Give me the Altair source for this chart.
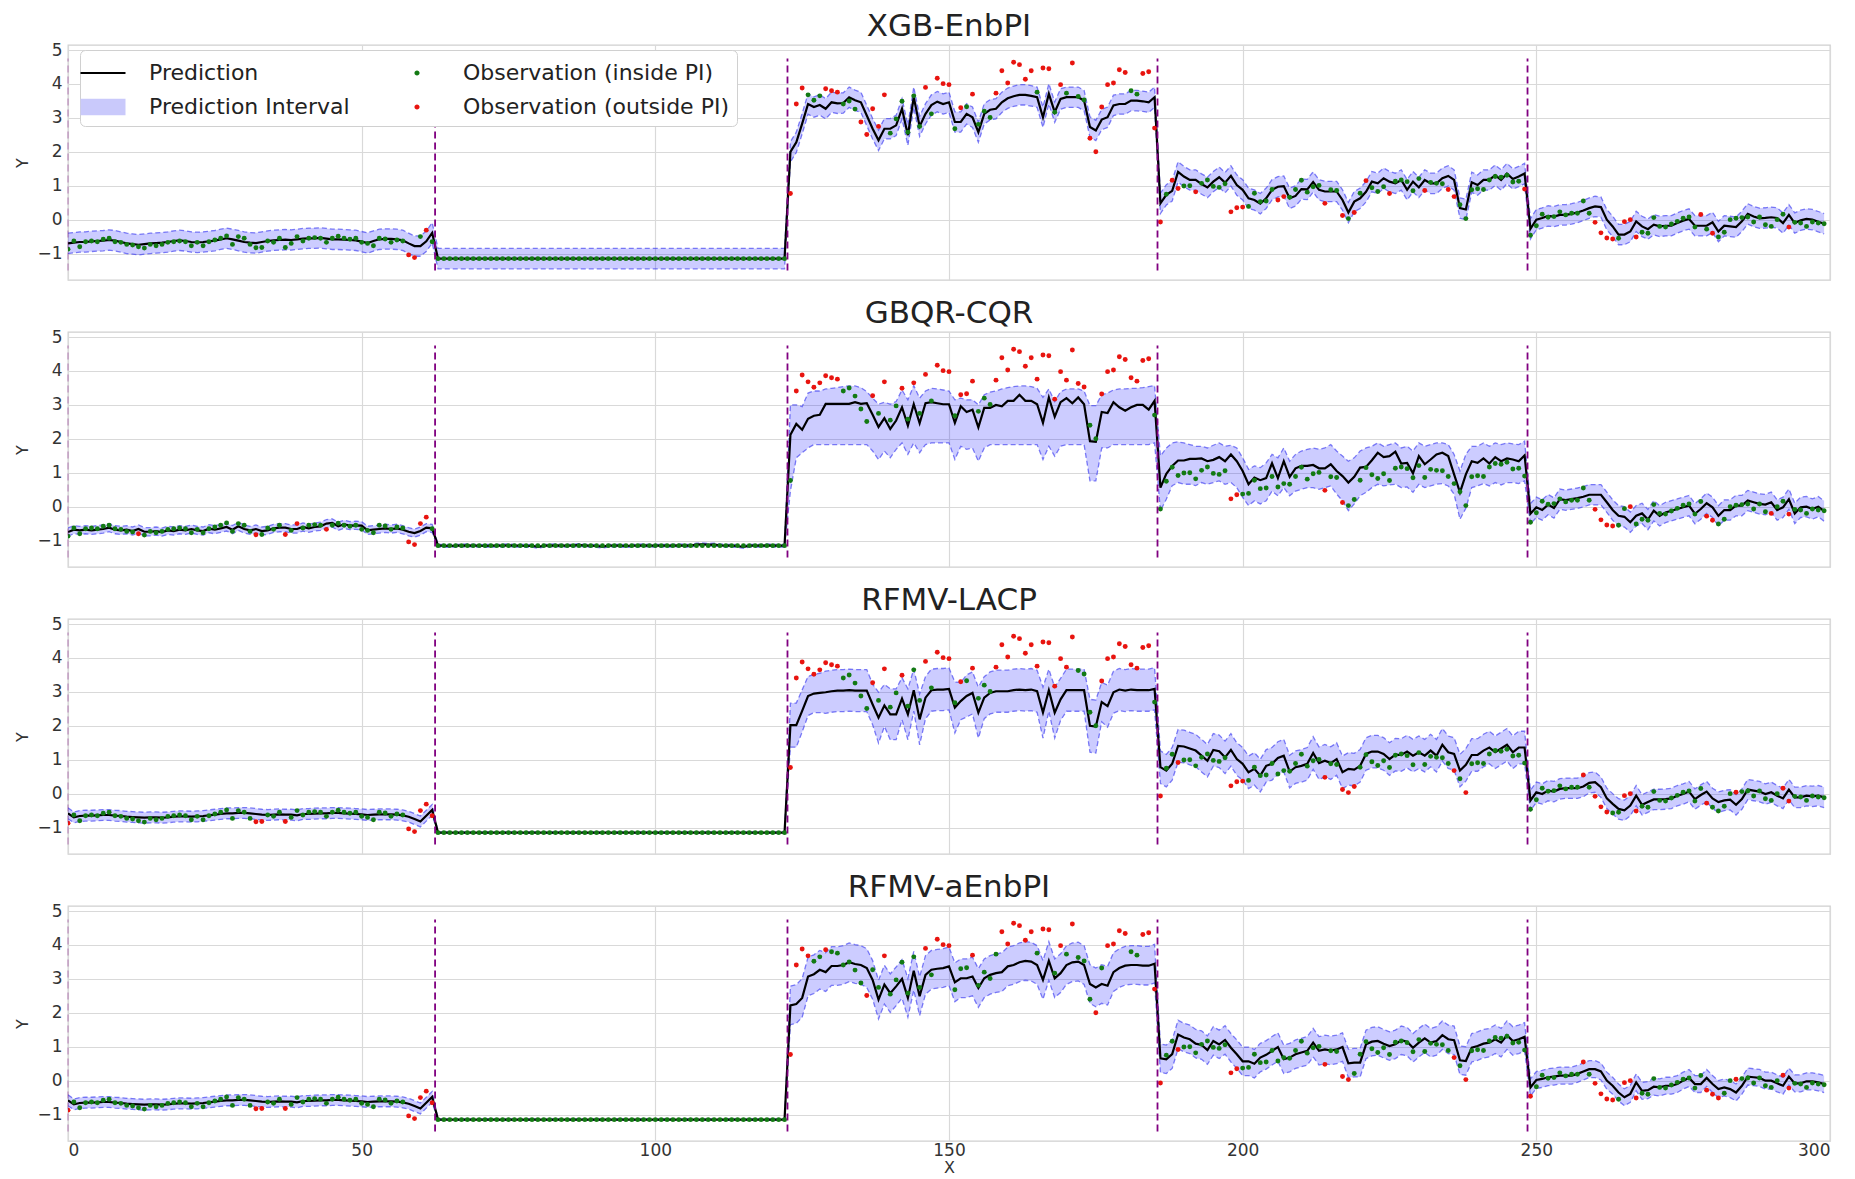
import altair as alt
import pandas as pd

# ---------------------------------------------------------------- data
X_VALUES = list(range(300))
SEG_LEN = [63, 60, 63, 63, 51]          # x = 0-62, 63-122, 123-185, 186-248, 249-299

OBS_SEG1 = [-0.87, -0.63, -0.80, -0.65, -0.63, -0.65, -0.58, -0.55, -0.65, -0.67,
            -0.73, -0.75, -0.80, -0.84, -0.73, -0.77, -0.73, -0.67, -0.65, -0.63,
            -0.65, -0.77, -0.67, -0.77, -0.65, -0.60, -0.55, -0.48, -0.73, -0.50,
            -0.55, -0.73, -0.83, -0.82, -0.63, -0.67, -0.55, -0.82, -0.70, -0.50,
            -0.63, -0.55, -0.53, -0.55, -0.67, -0.55, -0.49, -0.55, -0.58, -0.55,
            -0.67, -0.70, -0.77, -0.55, -0.57, -0.67, -0.60, -0.63, -1.04, -1.12,
            -0.50, -0.31, -0.65]
OBS_SEG2 = [-1.15] * 60
OBS_SEG3 = [0.77, 3.41, 3.88, 3.68, 3.52, 3.65, 3.86, 3.80, 3.76, 3.41,
            3.50, 3.26, 2.88, 2.51, 3.27, 2.75, 3.68, 2.55, 2.97, 3.49,
            2.58, 3.65, 2.75, 3.90, 3.12, 4.17, 4.01, 3.98, 2.68, 3.30,
            3.33, 3.70, 2.81, 3.20, 3.01, 3.73, 4.39, 4.03, 4.64, 4.57,
            4.14, 4.39, 3.76, 4.47, 4.45, 3.17, 3.98, 3.73, 4.62, 3.63,
            3.53, 2.40, 2.00, 3.32, 3.98, 4.03, 4.42, 4.34, 3.80, 3.70,
            4.31, 4.36, 2.70]
OBS_SEG4 = [-0.07, 0.75, 1.16, 0.92, 0.99, 1.00, 0.82, 1.07, 1.17, 0.98,
            0.95, 1.06, 0.23, 0.35, 0.37, 0.39, 0.78, 0.53, 0.55, 0.89,
            0.58, 0.68, 0.66, 0.89, 1.16, 0.81, 0.97, 1.01, 0.48, 0.88,
            0.86, 0.12, 0.03, 0.21, 0.78, 1.15, 0.94, 0.83, 0.97, 0.77,
            1.13, 1.17, 1.12, 0.85, 1.21, 0.86, 1.10, 1.07, 1.06, 0.89,
            0.68, 0.44, 0.03, 0.88, 0.91, 0.89, 1.17, 1.27, 1.25, 1.31,
            1.11, 1.13, 0.90]
OBS_SEG5 = [-0.46, -0.18, 0.16, 0.07, 0.09, 0.23, 0.14, 0.19, 0.19, 0.55,
            0.19, -0.08, -0.39, -0.54, -0.57, -0.55, -0.06, 0.00, -0.51, -0.37,
            -0.40, 0.06, -0.20, -0.22, -0.13, -0.05, 0.04, 0.08, -0.22, 0.15,
            -0.28, -0.40, -0.51, -0.37, 0.00, 0.04, 0.06, 0.08, -0.07, 0.08,
            -0.15, -0.20, 0.00, 0.16, -0.22, -0.08, -0.10, -0.20, -0.07, -0.10,
            -0.12]

# ---- XGB-EnbPI
XGB_PRED_SEG1 = [-0.70, -0.68, -0.66, -0.66, -0.64, -0.63, -0.62, -0.60, -0.62, -0.66,
                 -0.70, -0.72, -0.74, -0.72, -0.70, -0.69, -0.68, -0.66, -0.63, -0.61,
                 -0.63, -0.66, -0.67, -0.66, -0.64, -0.62, -0.58, -0.55, -0.58, -0.62,
                 -0.66, -0.68, -0.69, -0.66, -0.63, -0.61, -0.60, -0.59, -0.60, -0.58,
                 -0.56, -0.55, -0.55, -0.54, -0.56, -0.58, -0.58, -0.59, -0.60, -0.61,
                 -0.65, -0.69, -0.63, -0.58, -0.57, -0.57, -0.58, -0.61, -0.70, -0.78,
                 -0.78, -0.64, -0.39]
XGB_PRED_SEG2 = [-1.15] * 60
XGB_PRED_SEG3 = [2.00, 2.28, 2.83, 3.41, 3.32, 3.38, 3.27, 3.46, 3.43, 3.44,
                 3.61, 3.52, 3.46, 3.07, 2.68, 2.34, 2.68, 2.68, 2.78, 3.27,
                 2.49, 3.61, 2.75, 3.12, 3.38, 3.48, 3.41, 3.46, 2.88, 2.88,
                 3.12, 3.02, 2.58, 3.12, 3.24, 3.27, 3.46, 3.58, 3.64, 3.68,
                 3.68, 3.65, 3.61, 3.02, 3.71, 3.17, 3.56, 3.61, 3.61, 3.61,
                 3.51, 2.73, 2.63, 2.95, 3.02, 3.37, 3.41, 3.41, 3.51, 3.51,
                 3.49, 3.46, 3.61]
XGB_PRED_SEG4 = [0.48, 0.73, 0.85, 1.41, 1.27, 1.17, 1.17, 1.05, 0.95, 1.12,
                 1.25, 1.09, 1.29, 1.02, 0.88, 0.63, 0.58, 0.47, 0.63, 0.88,
                 0.97, 0.99, 0.63, 0.70, 0.90, 0.89, 1.11, 0.88, 0.83, 0.83,
                 0.83, 0.58, 0.21, 0.53, 0.63, 0.82, 1.12, 1.07, 1.22, 1.12,
                 1.07, 1.17, 0.88, 1.12, 0.95, 1.17, 1.07, 1.07, 1.22, 1.29,
                 1.17, 0.34, 0.30, 1.10, 1.02, 1.17, 1.17, 1.31, 1.17, 1.36,
                 1.20, 1.27, 1.36]
XGB_PRED_SEG5 = [-0.27, 0.00, 0.05, 0.11, 0.09, 0.14, 0.14, 0.17, 0.21, 0.27,
                 0.34, 0.39, 0.37, 0.00, -0.20, -0.44, -0.44, -0.35, -0.05, -0.20,
                 -0.28, -0.15, -0.20, -0.18, -0.18, -0.10, -0.03, 0.02, -0.18, -0.18,
                 -0.18, -0.08, -0.35, -0.18, -0.20, -0.22, -0.05, 0.17, 0.09, 0.04,
                 0.05, 0.07, 0.05, -0.10, 0.14, -0.10, -0.02, 0.02, 0.00, -0.06,
                 -0.12]
XGB_HALF_WIDTH = [0.30, 0.30, 0.30, 0.30, 0.30]

# ---- GBQR-CQR
GBQR_PRED_SEG1 = [-0.75, -0.68, -0.70, -0.68, -0.70, -0.68, -0.66, -0.62, -0.68, -0.70,
                  -0.68, -0.72, -0.66, -0.74, -0.74, -0.72, -0.75, -0.70, -0.72, -0.68,
                  -0.70, -0.66, -0.70, -0.72, -0.65, -0.68, -0.64, -0.60, -0.68, -0.58,
                  -0.66, -0.70, -0.66, -0.72, -0.70, -0.64, -0.62, -0.62, -0.66, -0.66,
                  -0.60, -0.64, -0.60, -0.58, -0.50, -0.48, -0.58, -0.52, -0.56, -0.55,
                  -0.56, -0.70, -0.68, -0.66, -0.64, -0.66, -0.64, -0.68, -0.74, -0.78,
                  -0.72, -0.62, -0.64]
GBQR_PRED_SEG2 = [-1.15, -1.15, -1.16, -1.15, -1.15, -1.14, -1.15, -1.15, -1.16, -1.15,
                  -1.15, -1.15, -1.14, -1.15, -1.15, -1.16, -1.15, -1.19, -1.15, -1.15,
                  -1.14, -1.15, -1.15, -1.15, -1.13, -1.15, -1.15, -1.16, -1.18, -1.15,
                  -1.15, -1.15, -1.16, -1.15, -1.15, -1.14, -1.15, -1.15, -1.15, -1.15,
                  -1.15, -1.14, -1.15, -1.15, -1.12, -1.11, -1.13, -1.12, -1.14, -1.15,
                  -1.15, -1.16, -1.19, -1.15, -1.15, -1.15, -1.14, -1.15, -1.15, -1.15]
GBQR_PRED_SEG3 = [2.12, 2.44, 2.27, 2.59, 2.68, 2.71, 3.03, 3.03, 3.03, 3.03,
                  3.03, 3.08, 3.03, 3.05, 2.71, 2.35, 2.61, 2.29, 2.54, 2.93,
                  2.39, 3.02, 2.46, 3.05, 3.08, 3.05, 3.02, 3.02, 2.47, 2.96,
                  2.79, 2.86, 2.34, 2.91, 2.91, 3.00, 2.96, 3.12, 3.12, 3.30,
                  3.12, 3.12, 3.02, 2.47, 3.22, 2.65, 3.08, 3.20, 3.05, 3.22,
                  3.02, 1.93, 1.91, 2.79, 2.76, 3.08, 2.93, 2.83, 2.93, 3.00,
                  3.00, 2.86, 3.12]
GBQR_UPPER_SEG3 = [3.00, 3.00, 2.95, 3.35, 3.41, 3.41, 3.47, 3.49, 3.51, 3.54,
                   3.56, 3.56, 3.51, 3.39, 3.20, 3.02, 3.08, 3.02, 3.10, 3.44,
                   3.15, 3.57, 3.20, 3.41, 3.49, 3.47, 3.44, 3.41, 3.15, 3.20,
                   3.15, 3.15, 3.00, 3.30, 3.38, 3.41, 3.47, 3.51, 3.54, 3.56,
                   3.56, 3.54, 3.49, 3.22, 3.47, 3.10, 3.39, 3.47, 3.47, 3.47,
                   3.41, 2.98, 2.98, 3.30, 3.35, 3.44, 3.47, 3.47, 3.49, 3.49,
                   3.51, 3.54, 3.57]
GBQR_LOWER_SEG3 = [0.46, 1.44, 1.59, 1.73, 1.83, 1.83, 1.83, 1.83, 1.83, 1.83,
                   1.83, 1.83, 1.83, 1.83, 1.64, 1.39, 1.64, 1.44, 1.69, 1.88,
                   1.54, 1.88, 1.59, 1.83, 1.88, 1.88, 1.88, 1.88, 1.39, 1.78,
                   1.69, 1.73, 1.34, 1.73, 1.83, 1.83, 1.83, 1.83, 1.83, 1.83,
                   1.83, 1.83, 1.83, 1.39, 1.78, 1.49, 1.78, 1.83, 1.83, 1.83,
                   1.83, 0.76, 0.76, 1.73, 1.73, 1.83, 1.83, 1.83, 1.83, 1.83,
                   1.83, 1.83, 1.88]
GBQR_PRED_SEG4 = [0.56, 0.97, 1.20, 1.36, 1.36, 1.41, 1.41, 1.42, 1.34, 1.38,
                  1.46, 1.34, 1.54, 1.34, 1.05, 0.66, 0.86, 0.78, 0.84, 1.28,
                  0.84, 1.34, 0.88, 1.13, 1.20, 1.20, 1.23, 1.13, 1.13, 1.25,
                  1.05, 0.90, 0.71, 0.88, 1.15, 1.17, 1.37, 1.59, 1.46, 1.49,
                  1.62, 1.27, 1.29, 0.98, 1.49, 1.25, 1.39, 1.54, 1.59, 1.49,
                  0.95, 0.42, 0.95, 1.34, 1.29, 1.42, 1.27, 1.46, 1.34, 1.42,
                  1.39, 1.34, 1.51]
GBQR_UPPER_SEG4 = [1.49, 1.73, 1.88, 1.91, 1.88, 1.83, 1.78, 1.78, 1.73, 1.81,
                   1.88, 1.78, 1.81, 1.73, 1.44, 1.10, 1.20, 1.15, 1.29, 1.54,
                   1.44, 1.73, 1.34, 1.54, 1.64, 1.69, 1.73, 1.69, 1.73, 1.83,
                   1.64, 1.49, 1.34, 1.44, 1.64, 1.73, 1.78, 1.88, 1.78, 1.83,
                   1.88, 1.73, 1.78, 1.64, 1.88, 1.78, 1.83, 1.88, 1.88, 1.83,
                   1.54, 1.05, 1.54, 1.78, 1.78, 1.88, 1.78, 1.88, 1.83, 1.88,
                   1.85, 1.83, 1.93]
GBQR_LOWER_SEG4 = [-0.12, 0.22, 0.62, 0.71, 0.66, 0.66, 0.62, 0.71, 0.66, 0.71,
                   0.76, 0.66, 0.71, 0.56, 0.27, 0.03, 0.17, 0.08, 0.17, 0.46,
                   0.32, 0.56, 0.32, 0.46, 0.51, 0.56, 0.56, 0.51, 0.56, 0.61,
                   0.37, 0.17, -0.12, 0.08, 0.32, 0.42, 0.56, 0.66, 0.61, 0.64,
                   0.66, 0.56, 0.58, 0.42, 0.66, 0.56, 0.61, 0.66, 0.68, 0.61,
                   0.37, -0.37, -0.05, 0.56, 0.61, 0.68, 0.61, 0.71, 0.64, 0.71,
                   0.71, 0.68, 0.76]
GBQR_PRED_SEG5 = [-0.21, -0.02, -0.10, 0.06, -0.04, 0.22, 0.19, 0.22, 0.25, 0.29,
                  0.35, 0.35, 0.35, 0.13, -0.10, -0.27, -0.30, -0.46, -0.27, -0.20,
                  -0.38, -0.12, -0.27, -0.17, -0.12, -0.07, -0.02, 0.03, -0.21, -0.07,
                  0.10, -0.02, -0.27, -0.10, -0.10, 0.03, 0.03, 0.18, 0.13, 0.08,
                  0.06, 0.13, -0.10, -0.02, 0.22, -0.20, -0.02, 0.00, -0.07, 0.00,
                  -0.13]
GBQR_HALF_WIDTH = [0.12, 0.04, None, None, 0.30]

# ---- RFMV-LACP
LACP_PRED_SEG1 = [-0.58, -0.70, -0.66, -0.65, -0.65, -0.64, -0.63, -0.63, -0.65, -0.66,
                  -0.68, -0.69, -0.70, -0.71, -0.70, -0.70, -0.71, -0.70, -0.68, -0.67,
                  -0.67, -0.68, -0.67, -0.66, -0.64, -0.62, -0.60, -0.58, -0.58, -0.57,
                  -0.57, -0.58, -0.60, -0.62, -0.63, -0.62, -0.61, -0.62, -0.62, -0.64,
                  -0.60, -0.60, -0.59, -0.58, -0.58, -0.57, -0.57, -0.58, -0.59, -0.60,
                  -0.61, -0.63, -0.62, -0.61, -0.61, -0.61, -0.62, -0.64, -0.68, -0.75,
                  -0.82, -0.65, -0.48]
LACP_PRED_SEG2 = [-1.15] * 60
LACP_PRED_SEG3 = [2.02, 2.02, 2.44, 2.88, 2.95, 2.97, 2.99, 3.02, 3.04, 3.04,
                  3.05, 3.04, 3.04, 3.04, 2.63, 2.24, 2.60, 2.34, 2.34, 2.80,
                  2.34, 3.05, 2.19, 2.83, 3.05, 3.07, 3.07, 3.09, 2.54, 2.73,
                  2.88, 2.97, 2.39, 2.83, 2.97, 3.02, 3.02, 3.02, 3.05, 3.07,
                  3.05, 3.07, 3.02, 2.39, 3.05, 2.39, 2.78, 3.05, 3.05, 3.05,
                  3.05, 2.00, 1.98, 2.70, 2.58, 2.99, 3.07, 3.04, 3.07, 3.05,
                  3.05, 3.05, 3.09]
LACP_HW_SEG3 = [0.65, 0.65, 0.62, 0.58, 0.56, 0.58, 0.62, 0.62, 0.62, 0.62,
                0.62, 0.62, 0.62, 0.62, 0.60, 0.75, 0.62, 0.75, 0.75, 0.62,
                0.75, 0.62, 0.75, 0.62, 0.62, 0.62, 0.62, 0.62, 0.75, 0.55,
                0.62, 0.62, 0.75, 0.62, 0.62, 0.62, 0.62, 0.62, 0.62, 0.62,
                0.62, 0.62, 0.62, 0.75, 0.62, 0.75, 0.62, 0.62, 0.62, 0.62,
                0.62, 0.78, 0.78, 0.58, 0.62, 0.62, 0.62, 0.62, 0.62, 0.62,
                0.62, 0.62, 0.62]
LACP_PRED_SEG4 = [0.78, 0.68, 0.88, 1.41, 1.39, 1.33, 1.27, 1.12, 0.97, 1.29,
                  1.25, 1.07, 1.29, 1.02, 0.88, 0.63, 0.73, 0.53, 0.82, 0.88,
                  1.05, 1.12, 0.65, 0.78, 0.82, 0.88, 1.20, 0.90, 0.97, 0.90,
                  1.02, 0.63, 0.73, 0.71, 0.82, 1.17, 1.24, 1.24, 1.17, 1.02,
                  1.15, 1.14, 1.24, 1.12, 1.22, 1.12, 1.27, 1.12, 1.44, 1.22,
                  1.17, 0.68, 0.85, 1.14, 1.14, 1.27, 1.36, 1.22, 1.33, 1.44,
                  1.22, 1.36, 1.36]
LACP_PRED_SEG5 = [-0.20, 0.04, -0.01, 0.09, 0.06, 0.14, 0.16, 0.16, 0.16, 0.21,
                  0.32, 0.34, 0.19, -0.14, -0.30, -0.45, -0.49, -0.35, -0.06, -0.33,
                  -0.25, -0.17, -0.17, -0.16, -0.14, -0.06, -0.01, 0.06, -0.16, -0.04,
                  0.06, -0.14, -0.25, -0.20, -0.18, -0.33, -0.16, 0.12, 0.09, 0.06,
                  -0.01, 0.04, -0.06, -0.14, 0.12, -0.11, -0.11, -0.06, -0.08, -0.06,
                  -0.11]
LACP_HALF_WIDTH = [0.16, 0.02, None, 0.48, 0.30]

# ---- RFMV-aEnbPI
AENBPI_PRED_SEG1 = LACP_PRED_SEG1
AENBPI_PRED_SEG2 = [-1.15] * 60
AENBPI_PRED_SEG3 = [2.22, 2.26, 2.44, 3.07, 3.14, 3.27, 3.20, 3.38, 3.38, 3.41,
                    3.49, 3.44, 3.41, 3.32, 2.97, 2.39, 2.83, 2.58, 2.78, 3.00,
                    2.44, 3.24, 2.49, 3.12, 3.27, 3.30, 3.32, 3.37, 2.90, 3.02,
                    3.02, 3.07, 2.73, 3.02, 3.12, 3.17, 3.20, 3.37, 3.41, 3.49,
                    3.53, 3.51, 3.41, 2.97, 3.53, 3.02, 3.17, 3.41, 3.49, 3.51,
                    3.41, 2.85, 2.75, 2.85, 2.80, 3.20, 3.32, 3.39, 3.41, 3.41,
                    3.39, 3.39, 3.45]
AENBPI_PRED_SEG4 = [0.66, 0.63, 0.78, 1.36, 1.27, 1.22, 1.09, 1.05, 0.90, 1.17,
                    1.07, 1.20, 0.97, 0.78, 0.57, 0.57, 0.50, 0.68, 0.76, 0.88,
                    0.99, 0.63, 0.68, 0.78, 0.83, 0.88, 1.12, 0.88, 0.92, 0.89,
                    0.92, 0.99, 0.51, 0.53, 0.53, 1.07, 1.15, 1.17, 1.09, 1.02,
                    1.07, 1.19, 1.15, 0.97, 1.12, 1.25, 1.12, 1.17, 1.34, 1.22,
                    1.19, 0.60, 0.58, 0.97, 1.02, 1.09, 1.12, 1.22, 1.12, 1.34,
                    1.17, 1.22, 1.29]
AENBPI_PRED_SEG5 = [-0.20, 0.02, 0.05, 0.10, 0.12, 0.15, 0.15, 0.15, 0.20, 0.27,
                    0.34, 0.34, 0.27, 0.00, -0.15, -0.35, -0.49, -0.39, -0.05, -0.30,
                    -0.28, -0.18, -0.20, -0.15, -0.15, -0.10, 0.00, 0.08, -0.10, -0.10,
                    0.08, -0.10, -0.25, -0.20, -0.25, -0.35, -0.15, 0.12, 0.10, 0.08,
                    0.00, 0.00, -0.08, -0.15, 0.12, -0.08, -0.08, -0.02, -0.02, -0.05,
                    -0.10]
AENBPI_HALF_WIDTH = [0.16, 0.02, 0.57, 0.42, 0.25]

PANEL_TITLES = ["XGB-EnbPI", "GBQR-CQR", "RFMV-LACP", "RFMV-aEnbPI"]
CHANGE_POINTS = [0, 62.5, 122.5, 185.5, 248.5]
CHANGE_ALPHA = [0.25, 1, 1, 1, 1]
CHANGE_Y = [-1.5, 4.75]
X_TICKS = [0, 50, 100, 150, 200, 250, 300]
Y_TICKS = [-1, 0, 1, 2, 3, 4, 5]
X_DOMAIN = [0, 300]
Y_DOMAIN = [-1.78, 5.15]

LEGEND_LABELS = ["Prediction", "Prediction Interval",
                 "Observation (inside PI)", "Observation (outside PI)"]
LEGEND_COLORS = ["#000000", "#c9c9fb", "#137a13", "#e8140f"]
LEGEND_SHAPES = ["M-1.5,-0.07L1.5,-0.07L1.5,0.07L-1.5,0.07Z",
                 "M-1.5,-0.55L1.5,-0.55L1.5,0.55L-1.5,0.55Z",
                 "M-0.17,0A0.17,0.17 0 1,0 0.17,0A0.17,0.17 0 1,0 -0.17,0Z",
                 "M-0.17,0A0.17,0.17 0 1,0 0.17,0A0.17,0.17 0 1,0 -0.17,0Z"]

GREEN = "#137a13"
RED = "#e8140f"
FONT = "DejaVu Sans"


def build_band(preds, half_widths, uppers=None, lowers=None):
    pred, lo, up = [], [], []
    for i, seg in enumerate(preds):
        pred += seg
        hw = half_widths[i]
        if hw is None and uppers is not None and uppers.get(i) is not None:
            up += uppers[i]
            lo += lowers[i]
        elif isinstance(hw, list):
            up += [p + h for p, h in zip(seg, hw)]
            lo += [p - h for p, h in zip(seg, hw)]
        else:
            up += [p + hw for p in seg]
            lo += [p - hw for p in seg]
    return pred, lo, up


OBS = OBS_SEG1 + OBS_SEG2 + OBS_SEG3 + OBS_SEG4 + OBS_SEG5

PANELS = [
    build_band([XGB_PRED_SEG1, XGB_PRED_SEG2, XGB_PRED_SEG3, XGB_PRED_SEG4, XGB_PRED_SEG5],
               XGB_HALF_WIDTH),
    build_band([GBQR_PRED_SEG1, GBQR_PRED_SEG2, GBQR_PRED_SEG3, GBQR_PRED_SEG4, GBQR_PRED_SEG5],
               GBQR_HALF_WIDTH,
               uppers={2: GBQR_UPPER_SEG3, 3: GBQR_UPPER_SEG4},
               lowers={2: GBQR_LOWER_SEG3, 3: GBQR_LOWER_SEG4}),
    build_band([LACP_PRED_SEG1, LACP_PRED_SEG2, LACP_PRED_SEG3, LACP_PRED_SEG4, LACP_PRED_SEG5],
               [LACP_HALF_WIDTH[0], LACP_HALF_WIDTH[1], LACP_HW_SEG3,
                LACP_HALF_WIDTH[3], LACP_HALF_WIDTH[4]]),
    build_band([AENBPI_PRED_SEG1, AENBPI_PRED_SEG2, AENBPI_PRED_SEG3, AENBPI_PRED_SEG4,
                AENBPI_PRED_SEG5], AENBPI_HALF_WIDTH),
]

vline_df = pd.DataFrame({"x": CHANGE_POINTS, "alpha": CHANGE_ALPHA,
                         "y0": [CHANGE_Y[0]] * len(CHANGE_POINTS),
                         "y1": [CHANGE_Y[1]] * len(CHANGE_POINTS)})
legend_df = pd.DataFrame({"cat": LEGEND_LABELS, "x": [-50] * 4, "y": [0] * 4})

PANEL_W, PANEL_H = 1762, 235
MINUS = "\u2212"


def y_enc(field):
    return alt.Y(field, title="Y",
                 scale=alt.Scale(domain=Y_DOMAIN, nice=False, zero=False),
                 axis=alt.Axis(values=Y_TICKS, labelExpr="replace(datum.label, '-', '%s')" % MINUS,
                               titlePadding=6, labelPadding=6))


def make_panel(idx):
    pred, lo, up = PANELS[idx]
    cls = ["in" if l <= o <= u else "out" for o, l, u in zip(OBS, lo, up)]
    df = pd.DataFrame({"x": X_VALUES, "obs": OBS, "pred": pred,
                       "lower": lo, "upper": up, "cls": cls})
    last = idx == len(PANELS) - 1
    if last:
        xaxis = alt.Axis(values=X_TICKS, title="X", labelPadding=1, titlePadding=1)
    else:
        xaxis = alt.Axis(values=X_TICKS, title=None, labels=False, ticks=False, domain=False)
    xenc = alt.X("x:Q", scale=alt.Scale(domain=X_DOMAIN, nice=False, zero=False), axis=xaxis)
    base = alt.Chart(df)
    band = base.mark_area(color="blue", opacity=0.2, clip=True).encode(
        x=xenc, y=y_enc("lower:Q"), y2="upper:Q")
    upper_line = base.mark_line(color="#3b3bf0", strokeDash=[5, 3], strokeWidth=1.3,
                                opacity=0.65, clip=True).encode(x=xenc, y=y_enc("upper:Q"))
    lower_line = base.mark_line(color="#3b3bf0", strokeDash=[5, 3], strokeWidth=1.3,
                                opacity=0.65, clip=True).encode(x=xenc, y=y_enc("lower:Q"))
    pred_line = base.mark_line(color="black", strokeWidth=2.2, clip=True).encode(
        x=xenc, y=y_enc("pred:Q"))
    pts_in = base.transform_filter(alt.datum.cls == "in").mark_circle(
        size=24, color=GREEN, opacity=1, clip=True).encode(x=xenc, y=y_enc("obs:Q"))
    pts_out = base.transform_filter(alt.datum.cls == "out").mark_circle(
        size=24, color=RED, opacity=1, clip=True).encode(x=xenc, y=y_enc("obs:Q"))
    vlines = alt.Chart(vline_df).mark_rule(color="purple", strokeDash=[7, 4],
                                           strokeWidth=1.8).encode(
        x=xenc, y=y_enc("y0:Q"), y2="y1:Q",
        opacity=alt.Opacity("alpha:Q", scale=None, legend=None))
    layers = [band, upper_line, lower_line, pred_line, pts_in, pts_out, vlines]
    if idx == 0:
        leg = alt.Legend(title=None, orient="none", legendX=12, legendY=5, columns=2,
                         columnPadding=52, rowPadding=8, labelFontSize=22, labelFont=FONT,
                         labelColor="#222222", labelOffset=31, padding=8,
                         strokeColor="#d0d0d0", fillColor="white", cornerRadius=5,
                         symbolSize=900, symbolStrokeWidth=0, symbolOpacity=1,
                         labelLimit=400)
        legend_layer = alt.Chart(legend_df).mark_point(filled=True, size=900, opacity=1,
                                                       clip=True).encode(
            x=xenc, y=y_enc("y:Q"),
            color=alt.Color("cat:N", scale=alt.Scale(domain=LEGEND_LABELS, range=LEGEND_COLORS),
                            legend=leg),
            shape=alt.Shape("cat:N", scale=alt.Scale(domain=LEGEND_LABELS, range=LEGEND_SHAPES),
                            legend=leg))
        layers.append(legend_layer)
    return alt.layer(*layers).properties(
        width=PANEL_W, height=PANEL_H,
        title=alt.TitleParams(PANEL_TITLES[idx], fontSize=31, font=FONT, fontWeight="normal",
                              color="#222222", offset=-2, anchor="middle"))


chart = alt.vconcat(*[make_panel(i) for i in range(len(PANELS))], spacing=16).resolve_scale(
    color="independent", shape="independent", opacity="independent"
).resolve_legend(color="independent", shape="independent").properties(
    padding={"left": 14, "top": 10, "right": 5, "bottom": 0}, background="white"
).configure_view(stroke="#cfcfcf", strokeWidth=1.3).configure_axis(
    gridColor="#d9d9d9", gridWidth=1.2, domain=False, ticks=False,
    labelFont=FONT, labelFontSize=17, labelColor="#333333",
    titleFont=FONT, titleFontSize=16, titleFontWeight="normal", titleColor="#333333"
)

chart.save("out.html", embed_options={"renderer": "svg", "actions": False})
